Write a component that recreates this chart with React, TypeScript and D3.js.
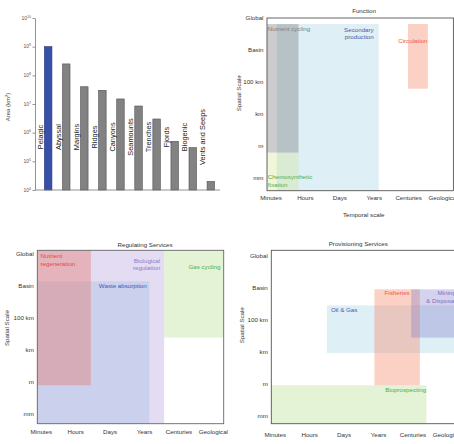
import React, { useRef, useEffect } from 'react';
import * as d3 from 'd3';

// habitat areas (km2)
const habitats = ['Pelagic', 'Abyssal', 'Margins', 'Ridges', 'Canyons', 'Seamounts', 'Trenches', 'Fjords', 'Biogenic', 'Vents and Seeps'];
const areas = [1e9, 2.5e8, 4e7, 3e7, 1.5e7, 8.5e6, 3e6, 5e5, 3e5, 2e4];
const areaExponents = [4, 5, 6, 7, 8, 9, 10];

// scale categories (index = position on the axis)
const timeLabels = ['Minutes', 'Hours', 'Days', 'Years', 'Centuries', 'Geological'];
const spaceLabels = ['mm', 'm', 'km', '100 km', 'Basin', 'Global'];

// boxes: [name, time from, time to, space from, space to]
const functionBoxes = [
  ['Secondary\nproduction', 0.17, 3.13, -0.4, 4.81],
  ['Nutrient cycling', -0.12, 0.8, 0.79, 4.81],
  ['Chemosynthetic\nfixation', -0.12, 0.8, -0.4, 0.79],
  ['Circulation', 3.98, 4.56, 2.79, 4.81],
];
const regulatingBoxes = [
  ['Biological\nregulation', -0.12, 3.57, -0.31, 5.11],
  ['Waste absorption', -0.12, 3.14, -0.31, 4.14],
  ['Nutrient\nregeneration', -0.12, 1.44, 0.89, 5.11],
  ['Gas cycling', 3.57, 5.3, 2.38, 5.11],
];
const provisioningBoxes = [
  ['Oil & Gas', 1.5, 5.3, 1.95, 3.44],
  ['Fisheries', 2.88, 4.2, 0.94, 3.94],
  ['Mining\n& Disposal', 3.95, 5.3, 2.43, 3.94],
  ['Bioprospecting', -0.12, 4.39, -0.26, 0.94],
];

// look of each box and where its label sits
const boxStyle = {
  'Secondary\nproduction': { fill: 'rgb(173,216,230)', op: 0.4, text: '#4a58a8', anchor: 'end', dx: -5, dy: [5.3, 12.7] },
  'Nutrient cycling': { fill: 'rgb(120,120,120)', op: 0.38, text: '#808080', anchor: 'start', dx: 1, dy: [4.3] },
  'Chemosynthetic\nfixation': { fill: 'rgb(205,225,130)', op: 0.3, text: '#52ad52', anchor: 'start', dx: 1, dy: [24.5, 31.8] },
  'Circulation': { fill: 'rgb(246,140,110)', op: 0.4, text: '#ec5a48', anchor: 'end', dx: -0.5, dy: [16.7] },
  'Biological\nregulation': { fill: 'rgb(170,150,215)', op: 0.33, text: '#8a7cc8', anchor: 'end', dx: -4, dy: [10, 17.7] },
  'Waste absorption': { fill: 'rgb(160,192,225)', op: 0.36, text: '#4656b0', anchor: 'end', dx: -2.6, dy: [4.7] },
  'Nutrient\nregeneration': { fill: 'rgb(232,112,100)', op: 0.38, text: '#e8493f', anchor: 'start', dx: 3.4, dy: [5, 13.4] },
  'Gas cycling': { fill: 'rgb(185,220,145)', op: 0.38, text: '#4fae4f', anchor: 'end', dx: -3.3, dy: [16.7] },
  'Oil & Gas': { fill: 'rgb(173,216,230)', op: 0.4, text: '#4656b0', anchor: 'start', dx: 4, dy: [4.4] },
  'Fisheries': { fill: 'rgb(246,140,110)', op: 0.4, text: '#ec5a48', anchor: 'middle', dx: 0, dy: [3.7] },
  'Mining\n& Disposal': { fill: 'rgb(125,118,200)', op: 0.33, text: '#7e70c0', anchor: 'end', dx: -2, dy: [3.7, 11.7] },
  'Bioprospecting': { fill: 'rgb(185,220,145)', op: 0.38, text: '#4fae4f', anchor: 'end', dx: -0.3, dy: [4.4] },
};

const panels = [
  { title: 'Function', boxes: functionBoxes, left: 267, top: 18, bottom: 190.7, yDomain: [-0.4, 5.0],
    titleX: 364, titleY: 10.7, spatialX: 238.7, spatialY: 93.3, xLabelGap: 6.6, temporal: [363.7, 215], frame: '#555' },
  { title: 'Regulating Services', boxes: regulatingBoxes, left: 37.3, top: 250.3, bottom: 423.7, yDomain: [-0.31, 5.11],
    titleX: 145, titleY: 244.7, spatialX: 6.7, spatialY: 328, xLabelGap: 8.3, temporal: null, frame: '#666' },
  { title: 'Provisioning Services', boxes: provisioningBoxes, left: 271.3, top: 250.3, bottom: 423.7, yDomain: [-0.26, 5.16],
    titleX: 358.3, titleY: 243.7, spatialX: 242, spatialY: 325.3, xLabelGap: 10.6, temporal: null, frame: '#555' },
];

const FONT = 'Liberation Sans, Arial, sans-serif';

function App() {
  const ref = useRef(null);

  useEffect(() => {
    const svg = d3.select(ref.current);
    svg.selectAll('*').remove();
    svg.append('rect').attr('width', 454).attr('height', 444).attr('fill', '#fff');
    drawBars(svg);
    panels.forEach((p) => drawPanel(svg, p));
  }, []);

  const drawBars = (svg) => {
    const base = 190;
    const x = d3.scaleBand().domain(habitats).range([39, 220]).paddingInner(0.585).paddingOuter(0.3);
    const y = d3.scaleLog().domain([1e4, 1e10]).range([base, 18]);
    const g = svg.append('g');

    g.selectAll('rect.bar')
      .data(habitats)
      .enter()
      .append('rect')
      .attr('x', (d) => x(d))
      .attr('y', (d, i) => y(areas[i]))
      .attr('width', x.bandwidth())
      .attr('height', (d, i) => base - y(areas[i]))
      .attr('fill', (d, i) => (i === 0 ? '#3850a8' : '#828282'))
      .attr('stroke', (d, i) => (i === 0 ? '#24337a' : '#505050'))
      .attr('stroke-width', 0.6);

    const yAxis = g.append('g')
      .attr('transform', 'translate(35,0)')
      .call(d3.axisLeft(y).tickValues(areaExponents.map((e) => Math.pow(10, e))).tickSize(2.5).tickSizeOuter(0).tickFormat(() => ''));
    yAxis.selectAll('path,line').attr('stroke', '#777').attr('stroke-width', 0.8);

    g.append('line').attr('x1', 35).attr('x2', 220).attr('y1', base).attr('y2', base)
      .attr('stroke', '#777').attr('stroke-width', 0.8);

    const tl = g.selectAll('text.tick')
      .data(areaExponents)
      .enter()
      .append('text')
      .attr('x', 31)
      .attr('y', (d) => y(Math.pow(10, d)) + 1.8)
      .attr('text-anchor', 'end')
      .attr('font-size', 5)
      .attr('fill', '#555')
      .text('10');
    tl.append('tspan').attr('dy', -2).attr('font-size', 3.5).text((d) => d);

    g.selectAll('text.hab')
      .data(habitats)
      .enter()
      .append('text')
      .attr('transform', (d) => 'translate(' + (x(d) + x.bandwidth() / 2 - 5.5) + ',137)rotate(-90)')
      .attr('text-anchor', 'middle')
      .attr('font-size', 7.4)
      .attr('fill', '#222')
      .text((d) => d);

    const al = g.append('text')
      .attr('transform', 'translate(9.5,107)rotate(-90)')
      .attr('text-anchor', 'middle')
      .attr('font-size', 6)
      .attr('fill', '#444')
      .text('Area (km');
    al.append('tspan').attr('dy', -2).attr('font-size', 4).text('2');
    al.append('tspan').attr('dy', 2).text(')');
  };

  const drawPanel = (svg, p) => {
    const x = d3.scaleLinear().domain([-0.116, 5.3]).range([p.left, p.left + 186.4]);
    const y = d3.scaleLinear().domain(p.yDomain).range([p.bottom, p.top]);
    const g = svg.append('g');

    g.selectAll('rect.box')
      .data(p.boxes)
      .enter()
      .append('rect')
      .attr('x', (d) => x(d[1]))
      .attr('y', (d) => y(d[4]))
      .attr('width', (d) => x(d[2]) - x(d[1]))
      .attr('height', (d) => y(d[3]) - y(d[4]))
      .attr('fill', (d) => boxStyle[d[0]].fill)
      .attr('fill-opacity', (d) => boxStyle[d[0]].op);

    p.boxes.forEach((d) => {
      const s = boxStyle[d[0]];
      let tx = (x(d[1]) + x(d[2])) / 2;
      if (s.anchor === 'start') tx = x(d[1]) + s.dx;
      if (s.anchor === 'end') tx = x(d[2]) + s.dx;
      d[0].split('\n').forEach((line, k) => {
        g.append('text')
          .attr('x', tx)
          .attr('y', y(d[4]) + s.dy[k] + 2.2)
          .attr('text-anchor', s.anchor)
          .attr('font-size', 6.2)
          .attr('fill', s.text)
          .text(line);
      });
    });

    g.append('rect')
      .attr('x', p.left).attr('y', p.top)
      .attr('width', 186.4).attr('height', p.bottom - p.top)
      .attr('fill', 'none').attr('stroke', p.frame).attr('stroke-width', 0.9);

    g.selectAll('text.sp')
      .data(spaceLabels)
      .enter()
      .append('text')
      .attr('x', p.left - 3.5)
      .attr('y', (d, i) => y(i) + 2.2)
      .attr('text-anchor', 'end')
      .attr('font-size', 6.2)
      .attr('fill', '#333')
      .text((d) => d);

    g.selectAll('text.tm')
      .data(timeLabels)
      .enter()
      .append('text')
      .attr('x', (d, i) => x(i))
      .attr('y', p.bottom + p.xLabelGap + 2.2)
      .attr('text-anchor', 'middle')
      .attr('font-size', 6.2)
      .attr('fill', '#333')
      .text((d) => d);

    g.append('text')
      .attr('x', p.titleX).attr('y', p.titleY + 2.2)
      .attr('text-anchor', 'middle')
      .attr('font-size', 6.2)
      .attr('fill', '#333')
      .text(p.title);

    g.append('text')
      .attr('transform', 'translate(' + (p.spatialX + 2.2) + ',' + p.spatialY + ')rotate(-90)')
      .attr('text-anchor', 'middle')
      .attr('font-size', 6.2)
      .attr('fill', '#333')
      .text('Spatial Scale');

    if (p.temporal) {
      g.append('text')
        .attr('x', p.temporal[0]).attr('y', p.temporal[1] + 2.2)
        .attr('text-anchor', 'middle')
        .attr('font-size', 6.2)
        .attr('fill', '#333')
        .text('Temporal scale');
    }
  };

  return (
    <svg ref={ref} width={454} height={444}
      style={{ position: 'absolute', left: 0, top: 0, fontFamily: FONT }}>
    </svg>
  );
}

export default App;
